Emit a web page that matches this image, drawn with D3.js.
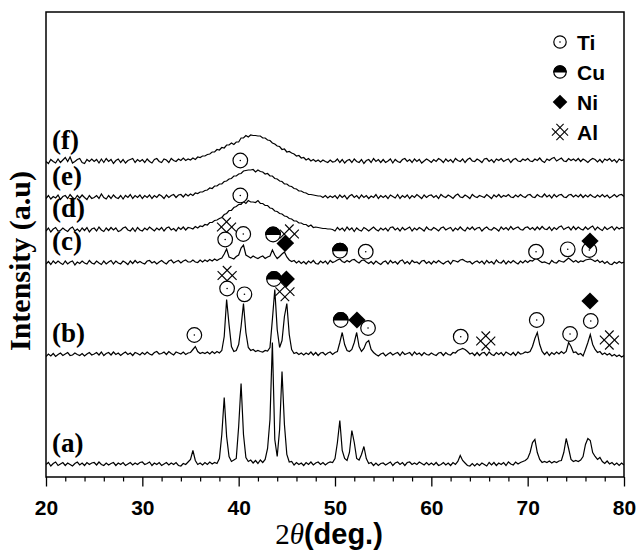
<!DOCTYPE html>
<html><head><meta charset="utf-8">
<script src="https://cdn.jsdelivr.net/npm/d3@7"></script>
<style>body{margin:0;background:#fff}</style>
</head><body><svg id="c" width="638" height="551"></svg>
<script>
// 2theta grid: start 20 deg, step 0.25 deg (241 points per pattern)
const xStart = 20, xStep = 0.25;
const seriesA = [
0,2,-1.5,1,2.5,-1,0.5,2,-1,1.5,0,-1.5,1,2.5,-0.5,1.5,-1,2,0,1.5,
2,-0.5,2.5,0,-1,1.5,-0.5,1,2,-1,1.5,0,2,-1,0.5,2,-0.5,1.5,0,2,
2.5,0,1,2.5,-1,1.5,0,2,-1,0.5,2,-0.5,1.5,0,2,-1,-1.5,1,0,2.5,
5,14,4,0,1.5,-0.5,2,0,2.5,0.5,2,1,6,30,67,28,8,3,4.5,6,
38,81,30,7,3,4.5,1.5,4,1,4.5,2,5,16,45,122,25,8,35,93,40,
10,2.5,3,-0.5,2,0,1.5,-1,2,0,2.5,-0.5,1.5,2.5,0,2,-0.5,1.5,2.5,2,
6,22,44,14,6,4,12,34,22,6,4.5,10,18,6,1,2,-1,1.5,-1,1,
1.5,-0.5,1,2.5,-1,1.5,2.5,0,2,-1,2,2.5,0,1.5,0,2.5,1,-0.5,2,-0.5,
1.5,-0.5,2,-1,0,2,-0.5,1.5,-1,2,0,3,9,4,1.5,-1,-1.5,1,-1.5,1,
-1,1.5,0,-1.5,2,-0.5,2,-1,1.5,0,2,-1,2.5,0.5,-0.5,2.5,0.5,2,3,4,
6,12,22,25,12,5,2,3,2,3.5,1.5,3,2,3.5,4,12,26,16,5,3,
4,3,4.5,8,20,26,24,12,8,5,7,3,1,3.5,0.5,2,-0.5,1.5,-1,1.5,
-0.5];
const seriesB = [
-2,0.5,-1.5,1,-2,0,1.5,-1,0.5,2,-1,-0.5,1.5,0,-1,1,-1.5,0.5,2,-0.5,
0.5,2,-0.5,2.5,-1,1,2,-0.5,2.5,0,1.5,-1,1,2.5,0,1.5,-1,2,1,-0.5,
2,0,2.5,0.5,-0.5,2,3,0.5,1,2.5,0,3,1,-0.5,2.5,1.5,0.5,2.5,0,1.5,
2,5,8,3,1,2,1,2.5,0.5,3,1,3,1.5,4,18,55,30,8,3,4,
10,28,51,22,7,4,5,3,4,3,2.5,4,3.5,7,35,65,25,7,14,38,
51,20,5,1,2,0,1.5,-0.5,1.5,0,2.5,-0.5,2,-1,1.5,2,-0.5,1.5,2.5,0,
2,3,12,22,10,4,3,5,12,22,8,3,6,12,14,5,2,0,-1.5,0.5,
1.5,-1.5,0.5,2,-0.5,1,2,-1,2.5,0,1,2,-1,2.5,0,1.5,-1,2,0,-0.5,
1.5,0,-1,1.5,2,-1,2,0,-0.5,2,1.5,4,5,6,5,3,0.5,1.5,-1,2,
-1,1.5,2,-1,2.5,0,-1,2,0,2,-1,2.5,1,-0.5,2,-1,2.5,0.5,1,2.5,
2,3,8,16,22,10,3,0,2.5,-1,2,0,2.5,0.5,3,1,3,12,8,2,
2.5,0,1,-1.5,5,12,20,10,5,2,3,0,1.5,-0.5,1,-1.5,0,-2,-0.5,-2.5,
-1];
const seriesC = [
-1,1.5,-1.5,2,-0.5,2,0,-1.5,2,-1,1,2,-2,1,-0.5,2,0,-1,2.5,0,
-1,2,0,-1.5,2,-1,1,2.5,-1,2,0,-1,2,0.5,-1.5,2,-0.5,2.5,0,1.5,
0,-1,2,2.5,0,1.5,-1,1,2.5,0.5,-1,2,3,0,1.5,2.5,0,2,3,1,
1,3,1,0.5,3,1,3,1.5,3.5,2,4,2.5,4,5,9,14,6,5,4,6.5,
8,15,18,8,6.5,5,7,5.5,4.5,6,7,4.5,6,7,13,8,4.5,6.5,9,11,
6,3,1.5,2.5,0,2,-0.5,1.5,-1,2,0,2.5,-0.5,-1,2,0,2,-1,2.5,0.5,
1.5,3,4,1.5,0.5,2.5,1,3,3.5,1.5,0,2.5,3,1,-0.5,1.5,-1,2,0,-1.5,
1,2,-1,2.5,0,1.5,-1,2,3,-0.5,1.5,-1,2.5,0.5,1,-1,2,2.5,-0.5,1.5,
-1,2,0,2.5,0.5,-1,1,2,-1,2.5,2,1,3,3.5,2,1,1.5,-1,1,2,
0,2,-1,2.5,0,1.5,-1,3,0.5,0,2.5,-1,2,0,2.5,0.5,-1,2,0,2.5,
0.5,2.5,2,4,4,2,0.5,1,0,-1,2.5,0.5,0,2.5,1.5,1,3,5,3,1,
2.5,0.5,2,1.5,3,3.5,4,3,1.5,3,0.5,2,-0.5,1.5,-1,-1.5,1,-0.5,1.5,0,
1];
const seriesD = [
-1,2,-2,1,2.5,-1,-0.5,2,0,-1.5,1.5,3,-1,1,-1.5,2,-0.5,2.5,-2,1,
2,-1,3,0,-1.5,2,-0.5,2.5,0,2,-1.5,-0.5,2,3,0,-1,2,-1.5,2.5,0,
-1,2,0,3,1,-1,2,0,2.5,-1,2,3,0,1.5,-1,2.5,0.5,3,0,2.5,
2,1,3.5,2,4,3.5,5.5,5,7.5,7.5,9.5,10,11.5,12.5,15.5,16.5,19.5,19.5,22.5,23.5,
25.5,25.5,28.5,26.5,29.5,28,28,27.5,29.5,26.5,26.5,24.5,24.5,22,21.5,19,18.5,16.5,16,14,
13.5,11.5,11,9,9,7,7,5.5,5.5,3.5,5,2.5,3,2.5,2,1.5,1.5,1,1,0.5,
-1,2.5,0,2,-1,3,0,2,-1.5,2,0,-1,2.5,1,-1,1,3,0.5,-1,2,
0,2,-1,2.5,3,0,2,-1,2.5,0,1.5,3,-1,2,0,2.5,1,-1,3,0.5,
0,2.5,1,-1,2,3,0,1.5,2.5,-1,2,0,3,0.5,-1,2.5,0.5,3,0,2,
2.5,-1,1.5,3,0.5,0,2.5,1,-1,3,0.5,2.5,0,3.5,0.5,2,3,0.5,0,2.5,
3,0.5,2.5,0,3,0.5,3.5,1,0.5,3,-0.5,2.5,0.5,3,4,0.5,2,3,0,3.5,
0.5,3,1,0,3,0.5,2.5,4,0,3,1,-0.5,3,0.5,2,3.5,0,3,1,2.5,
1.5];
const seriesE = [
-1,2,-1.5,1,-0.5,2.5,-2,1,2,-1,3,0,-1.5,2,-0.5,2.5,0,-2,2,-1,
0,2,-1,3.5,0,-1.5,2,-1,2.5,0,-1,2,-1.5,2,0,3,-1,2,0,2.5,
-1,2,0,2.5,-1,2,0,3,1.5,-1,2.5,0,2,3,0,2.5,3,0.5,3.5,1.5,
3.5,2,4.5,4,5.5,5.5,7,7.5,9.5,9,11.5,11.5,13.5,13.5,16,16.5,18.5,19,21.5,21.5,
23.5,24,26.5,27,27.5,27.5,28,25.5,27.5,26,25.5,23.5,24,21.5,21.5,19,18.5,16.5,16,13.5,
13.5,11.5,11,9,8.5,6.5,6.5,5,4.5,3,3,2.5,2,1.5,1.5,0,2,-0.5,1.5,0,
2,-1,2.5,0,2,-1.5,1.5,3,0,2,-1,2.5,0,2,-1,1.5,0,3,-1,2,
0,2,-1,2.5,1,-0.5,3,-1,2,0,2.5,-1,2,0,3,1,-1,2.5,0,2,
2.5,0,2,-1,3,1,0,2.5,1,-1,2,3.5,0.5,0,2.5,1,-1,3,1,0,
2,1,0,3,1,-1,2.5,0.5,3,0,2,1,3,0.5,0,2.5,0.5,3,1,0,
2.5,3,0.5,0,3,1,0.5,3.5,0.5,2.5,-0.5,3,0.5,2.5,3,0.5,0,2.5,3,0.5,
2.5,0.5,3,0,2.5,0.5,3,1,0,2.5,0.5,3,0.5,2.5,-0.5,1,3,0.5,2.5,3,
1];
const seriesF = [
0,-2,2,0,-1.5,2.5,-1,1.5,4,0,4.5,-1.5,0,2,3,-1,-2,2,0,2.5,
0,2,-1.5,2.5,-1,3,0,2,-2,1,2.5,-1,2,-1.5,1,2,3,-1,2,0,
2,-1,2.5,0,-1.5,2,3,0,-1,2.5,1.5,-1,3,1,0,2.5,1,3.5,1,2.5,
1.5,3.5,2,4.5,4,5.5,5.5,7,7.5,9.5,9.5,12,11.5,14,13.5,16.5,16.5,18.5,17,19.5,
19.5,23.5,23.5,26,24.5,26.5,26,26,25.5,25.5,23.5,23.5,21.5,21,18.5,17.5,15.5,15,12,12.5,
9.5,10,8.5,7.5,5.5,6,3.5,4,1.5,3,0.5,2,0,1.5,-0.5,1.5,0,-1,1.5,-0.5,
0,2.5,-1,2,-1.5,1,2,-1,2.5,0,-1,2,-2,1,2,-1,3,0,2,-1,
2,-1,0.5,2.5,-1.5,2,0,-1,2,3,0,2,-1,2.5,0,2,-1.5,0.5,2.5,1,
-1,2,0,3,1.5,-1,2.5,0,2,-1,3,1,0,2.5,-1,2,3.5,0.5,0,2.5,
1,-1,2.5,3,0,2,-1,2.5,1,3,0,1.5,2.5,-1,2,3,0.5,0,2.5,1,
3,0.5,0,2.5,1,3.5,0.5,-1,2.5,1,3,4,0.5,2,3.5,0.5,0,3,1,2.5,
0.5,3,0,2.5,1,-1,1.5,3,2,-0.5,2,-1,2.5,1,3,0,2,-1,2.5,1,
2];
// vertical stacking offsets of the patterns (a.u.)
const offsets = [12.5, 122.5, 214, 247, 279.5, 315.5];
const seriesLabels = ["(a)", "(b)", "(c)", "(d)", "(e)", "(f)"];
const xTicks = [20, 30, 40, 50, 60, 70, 80];
const xMinorTicks = [22,24,26,28,32,34,36,38,42,44,46,48,52,54,56,58,62,64,66,68,72,74,76,78];
const phases = ["Ti", "Cu", "Ni", "Al"];
// phase markers: [phase, 2theta, intensity position]
const markers = [
 ["Al",38.8,201.5],["Al",44.8,185.3],["Al",65.65,136],["Al",78.48,137],
 ["Ti",35.4,142],["Ti",38.8,188.5],["Ti",40.6,182.7],["Cu",43.67,198],["Ni",44.95,198],
 ["Cu",50.6,157],["Ni",52.28,157],["Ti",53.43,149],["Ti",63.05,140.3],
 ["Ti",70.94,157],["Ti",74.4,143],["Ti",76.55,156],["Ni",76.47,176],
 ["Al",38.74,250],["Al",45.26,243],["Ti",38.6,237.5],["Ti",40.48,243],["Cu",43.57,242.5],["Ni",44.82,233.5],
 ["Cu",50.52,226.3],["Ti",53.19,225.3],["Ti",70.87,225.3],["Ti",74.16,227.7],["Ti",76.4,227],["Ni",76.47,236],
 ["Ti",40.17,281.5],["Ti",40.17,316.5]
];

const svg = d3.select("#c");
const L = 46, R = 624, T = 12, B = 477;
const x = d3.scaleLinear().domain([20, 80]).range([L, R]);
const y = d3.scaleLinear().domain([0, 465]).range([B, T]);

svg.append("rect").attr("width",638).attr("height",551).attr("fill","#fff");
svg.append("clipPath").attr("id","clip").append("rect")
  .attr("x",L).attr("y",T).attr("width",R-L).attr("height",B-T);

const series = [seriesA, seriesB, seriesC, seriesD, seriesE, seriesF];
const line = d3.line().x((d,i) => x(xStart + i*xStep)).y(d => y(d));
const gLines = svg.append("g").attr("clip-path","url(#clip)");
series.forEach((s,k) => {
  gLines.append("path").datum(s.map(v => v + offsets[k]))
    .attr("d", line).attr("fill","none").attr("stroke","#000")
    .attr("stroke-width",1.2).attr("stroke-linejoin","miter");
});

// labels
series.forEach((s,k) => {
  svg.append("text").attr("x",52).attr("y", y(offsets[k]) - 13)
    .attr("font-family","'Liberation Serif','Times New Roman',serif")
    .attr("font-weight","bold").attr("font-size",27).text(seriesLabels[k]);
});

function sym(g, p, cx, cy, r) {
  if (p === "Ti") {
    g.append("circle").attr("cx",cx).attr("cy",cy).attr("r",r).attr("fill","#fff").attr("stroke","#000").attr("stroke-width",1.2);
    g.append("circle").attr("cx",cx).attr("cy",cy).attr("r",0.8).attr("fill","#000");
  } else if (p === "Cu") {
    g.append("circle").attr("cx",cx).attr("cy",cy).attr("r",r).attr("fill","#fff").attr("stroke","#000").attr("stroke-width",1.2);
    g.append("path").attr("d",`M${cx-r},${cy}A${r},${r} 0 0 1 ${cx+r},${cy}Z`).attr("fill","#000").attr("stroke","#000").attr("stroke-width",1.2);
  } else if (p === "Ni") {
    const h = r*1.18;
    g.append("path").attr("d",`M${cx},${cy-h}L${cx+h},${cy}L${cx},${cy+h}L${cx-h},${cy}Z`).attr("fill","#000");
  } else {
    const s = r*1.3, d = s*0.55;
    const segs = [[-s,-s+d,s-d,s],[-s+d,-s,s,s-d],[d-s,s,s,d-s],[-s,s-d,s-d,-s]];
    segs.forEach(q => g.append("line").attr("x1",cx+q[0]).attr("y1",cy+q[1]).attr("x2",cx+q[2]).attr("y2",cy+q[3])
      .attr("stroke","#000").attr("stroke-width",1.1));
  }
}
const gM = svg.append("g");
markers.forEach(m => sym(gM, m[0], x(m[1]), y(m[2]), 7.3));

// legend
const legY = [42, 72, 102, 132];
phases.forEach((p,i) => {
  sym(svg, p, 560, legY[i], 6.2);
  svg.append("text").attr("x",577).attr("y",legY[i]+7.5)
    .attr("font-family","'Liberation Sans',Arial,sans-serif").attr("font-weight","bold")
    .attr("font-size",21).text(p);
});

// frame
svg.append("rect").attr("x",L).attr("y",T).attr("width",R-L).attr("height",B-T)
  .attr("fill","none").attr("stroke","#000").attr("stroke-width",1.5);

// x axis
const ax = svg.append("g").attr("transform",`translate(0,${B})`)
  .call(d3.axisBottom(x).tickValues(xTicks).tickSize(9.5).tickPadding(14).tickFormat(d3.format("d")));
ax.select(".domain").remove();
ax.selectAll("line").attr("stroke","#000").attr("stroke-width",1.3);
ax.selectAll("text").attr("font-family","'Liberation Sans',Arial,sans-serif")
  .attr("font-weight","bold").attr("font-size",21).attr("fill","#000");
const axm = svg.append("g").attr("transform",`translate(0,${B})`)
  .call(d3.axisBottom(x).tickValues(xMinorTicks).tickSize(4.5).tickFormat(""));
axm.select(".domain").remove();
axm.selectAll("line").attr("stroke","#000").attr("stroke-width",1.2);

// axis titles
const xt = svg.append("text").attr("x",329).attr("y",544).attr("text-anchor","middle").attr("font-size",29);
xt.append("tspan").attr("font-family","'Liberation Serif',serif").text("2");
xt.append("tspan").attr("font-family","'Liberation Serif',serif").attr("font-style","italic").text("θ");
xt.append("tspan").attr("font-family","'Liberation Sans',Arial,sans-serif").attr("font-weight","bold").text("(deg.)");

svg.append("text").attr("transform","translate(30,261) rotate(-90)").attr("text-anchor","middle")
  .attr("font-family","'Liberation Serif','Times New Roman',serif").attr("font-weight","bold")
  .attr("font-size",30).text("Intensity (a.u)");
</script>
</body></html>
